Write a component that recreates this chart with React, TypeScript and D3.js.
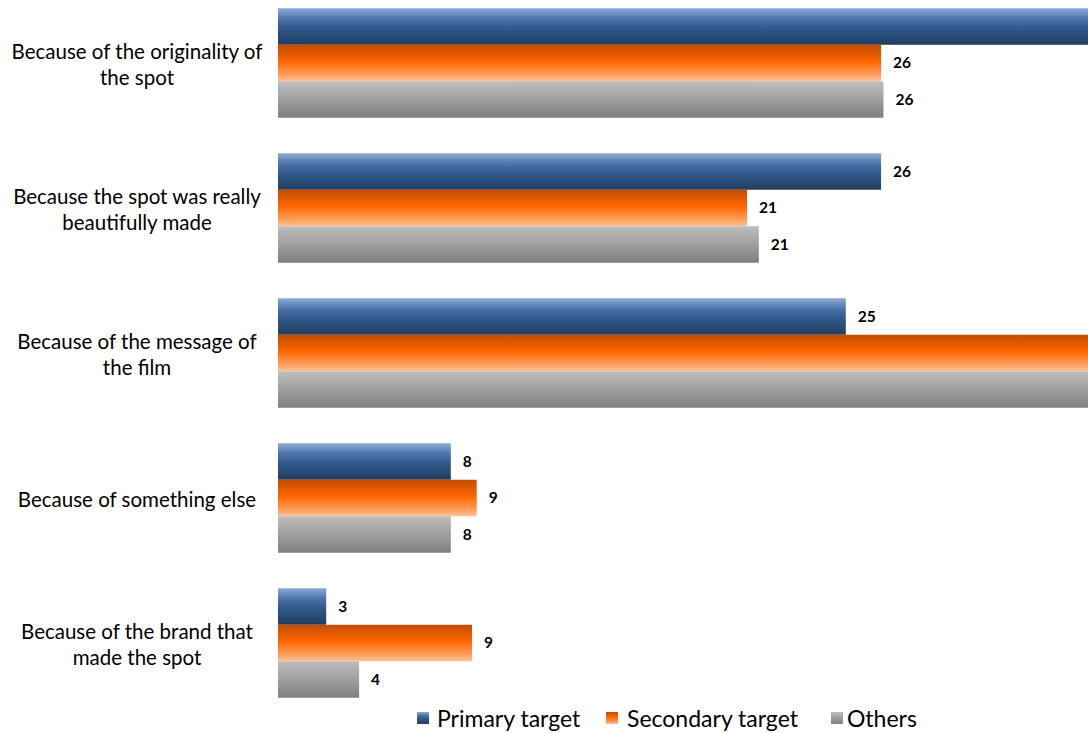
import React from "react";
import * as d3 from "d3";

const categories = [
  ["Because of the originality of", "the spot"],
  ["Because the spot was really", "beautifully made"],
  ["Because of the message of", "the film"],
  ["Because of something else"],
  ["Because of the brand that", "made the spot"],
];
const seriesNames = ["Primary target", "Secondary target", "Others"];
const primary = [40, 26.3, 24.8, 8.0, 2.7];
const secondary = [26.3, 20.6, 37, 9.1, 8.9];
const others = [26.4, 21.1, 36, 8.0, 4.1];

const W = 1088;
const H = 733;

const gradients = [
  { id: "gPrimary", stops: [["0", "#8cabd6"], ["0.3", "#4a72a8"], ["0.55", "#2f5a8c"], ["1", "#233c5e"]] },
  { id: "gSecondary", stops: [["0", "#c04c00"], ["0.45", "#ff6600"], ["0.8", "#ff9a55"], ["1", "#ffc39a"]] },
  { id: "gOthers", stops: [["0", "#bebebe"], ["1", "#7f7f7f"]] },
];

export default function App() {
  const series = [primary, secondary, others];
  const x = d3.scaleLinear().domain([0.65, 35.1]).range([278, 1088]);
  const y = d3
    .scaleBand<number>()
    .domain(d3.range(categories.length))
    .range([-9.5, 715.5])
    .paddingInner(0.245)
    .paddingOuter(0.1225);
  const inner = d3
    .scaleBand<number>()
    .domain([0, 1, 2])
    .range([0, y.bandwidth()]);
  const fmt = d3.format(".0f");
  const font = "Lato, 'Open Sans', sans-serif";
  const [xMin, xMax] = x.range();

  const legendItems = [
    { sq: 417, tx: 437 },
    { sq: 606, tx: 627 },
    { sq: 831, tx: 847 },
  ];

  return (
    <svg
      width={W}
      height={H}
      style={{ position: "absolute", left: 0, top: 0, background: "#fff" }}
    >
      <defs>
        {gradients.map((g) => (
          <linearGradient key={g.id} id={g.id} x1="0" y1="0" x2="0" y2="1">
            {g.stops.map(([o, c]) => (
              <stop key={o} offset={o} stopColor={c} />
            ))}
          </linearGradient>
        ))}
      </defs>
      {categories.map((lines, ci) => {
        const y0 = y(ci)!;
        const cy = y0 + y.bandwidth() / 2 + 1.5;
        const lh = 26;
        return (
          <g key={ci}>
            {series.map((s, si) => {
              const by = y0 + inner(si)!;
              const bh = inner.bandwidth();
              const xe = Math.min(x(s[ci]), xMax);
              const visible = x(s[ci]) < xMax - 40;
              return (
                <g key={si}>
                  <rect
                    x={xMin}
                    y={by}
                    width={Math.max(0, xe - xMin)}
                    height={bh}
                    fill={`url(#${gradients[si].id})`}
                  />
                  {visible && (
                    <text
                      x={xe + 12}
                      y={by + bh / 2}
                      dy="0.35em"
                      fontFamily={font}
                      fontWeight="bold"
                      fontSize={15.5}
                      fill="#000"
                    >
                      {fmt(s[ci])}
                    </text>
                  )}
                </g>
              );
            })}
            {lines.map((ln, li) => (
              <text
                key={li}
                x={137}
                y={cy + (li - (lines.length - 1) / 2) * lh}
                dy="0.35em"
                textAnchor="middle"
                fontFamily={font}
                fontSize={20.5}
                fill="#000"
              >
                {ln}
              </text>
            ))}
          </g>
        );
      })}
      {seriesNames.map((n, i) => (
        <g key={n}>
          <rect
            x={legendItems[i].sq}
            y={712}
            width={12}
            height={12}
            fill={`url(#${gradients[i].id})`}
          />
          <text
            x={legendItems[i].tx}
            y={726.5}
            fontFamily={font}
            fontSize={23}
            fill="#000"
          >
            {n}
          </text>
        </g>
      ))}
    </svg>
  );
}
